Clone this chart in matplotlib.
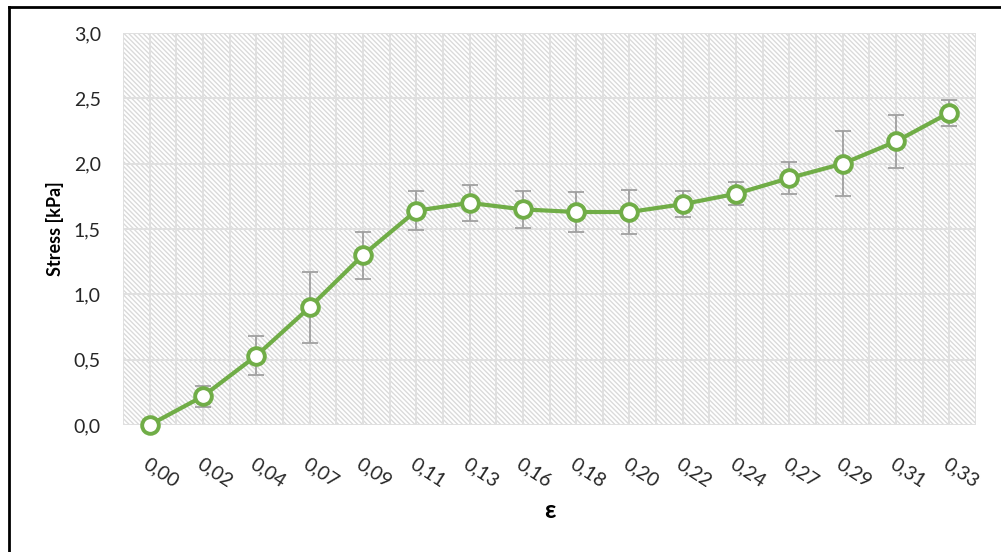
import matplotlib
matplotlib.use("Agg")
import matplotlib.pyplot as plt
from matplotlib.patches import Rectangle
from matplotlib.lines import Line2D
import numpy as np

categories = ["0,00", "0,02", "0,04", "0,07", "0,09", "0,11", "0,13", "0,16",
              "0,18", "0,20", "0,22", "0,24", "0,27", "0,29", "0,31", "0,33"]
stress = [0.00, 0.22, 0.53, 0.90, 1.30, 1.64, 1.70, 1.65,
          1.63, 1.63, 1.69, 1.77, 1.89, 2.00, 2.17, 2.39]
stress_err = [0.00, 0.08, 0.15, 0.27, 0.18, 0.15, 0.14, 0.14,
              0.15, 0.17, 0.10, 0.09, 0.12, 0.25, 0.20, 0.10]
yticks = [0.0, 0.5, 1.0, 1.5, 2.0, 2.5, 3.0]
ytick_labels = ["0,0", "0,5", "1,0", "1,5", "2,0", "2,5", "3,0"]

plt.rcParams['font.family'] = ['Lato', 'DejaVu Sans']
plt.rcParams['hatch.linewidth'] = 1.0

W, H = 1001, 552
fig = plt.figure(figsize=(W / 100, H / 100), dpi=100)
ax = fig.add_axes([123 / W, 1 - 425 / H, 853 / W, 392 / H])

x = np.arange(len(categories))
ax.set_xlim(-0.5, len(categories) - 0.5)
ax.set_ylim(0, 3.0)

# hatched background
ax.set_facecolor("white")
bg = Rectangle((0, 0), 1, 1, transform=ax.transAxes, facecolor="white",
               edgecolor="#DADADA", hatch="\\" * 7, linewidth=0, zorder=0)
ax.add_patch(bg)

# gridlines: vertical every half category, horizontal at y ticks
for gx in np.arange(-0.5, len(categories), 0.5):
    ax.axvline(gx, color="#E0E0E0", linewidth=1.4, zorder=1)
for gy in yticks:
    ax.axhline(gy, color="#E0E0E0", linewidth=1.4, zorder=1)

ax.set_yticks(yticks)
ax.set_yticklabels(ytick_labels)
ax.set_xticks(x)
for s in ax.spines.values():
    s.set_visible(False)
ax.tick_params(axis="both", which="both", length=0)
ax.tick_params(axis="y", labelsize=14, colors="#262626", pad=16)
ax.set_xticklabels(categories, rotation=-33, ha="left", va="top",
                   rotation_mode="anchor", fontsize=14, color="#262626")
ax.tick_params(axis="x", pad=22)

# error bars
ax.errorbar(x, stress, yerr=stress_err, fmt="none", ecolor="#A0A0A0",
            elinewidth=1.3, capsize=5.5, capthick=1.3, zorder=3)
ax.plot(x, stress, color="#70AD47", linewidth=3.0, marker="o", markersize=12,
        markerfacecolor="white", markeredgecolor="#70AD47",
        markeredgewidth=2.8, zorder=4, clip_on=False)

ax.set_ylabel("Stress [kPa]", fontsize=13, fontweight="bold", labelpad=7)
fig.text(550 / W, 1 - 510 / H, "ε", fontsize=18, fontweight="bold",
         ha="center", va="center")

# outer frame (top and left lines)
fig.add_artist(Line2D([9 / W, 1.0], [1 - 7 / H, 1 - 7 / H],
                      transform=fig.transFigure, color="black", linewidth=2))
fig.add_artist(Line2D([9 / W, 9 / W], [1 - 7 / H, 0],
                      transform=fig.transFigure, color="black", linewidth=2))

fig.savefig("out.png", dpi=100)
